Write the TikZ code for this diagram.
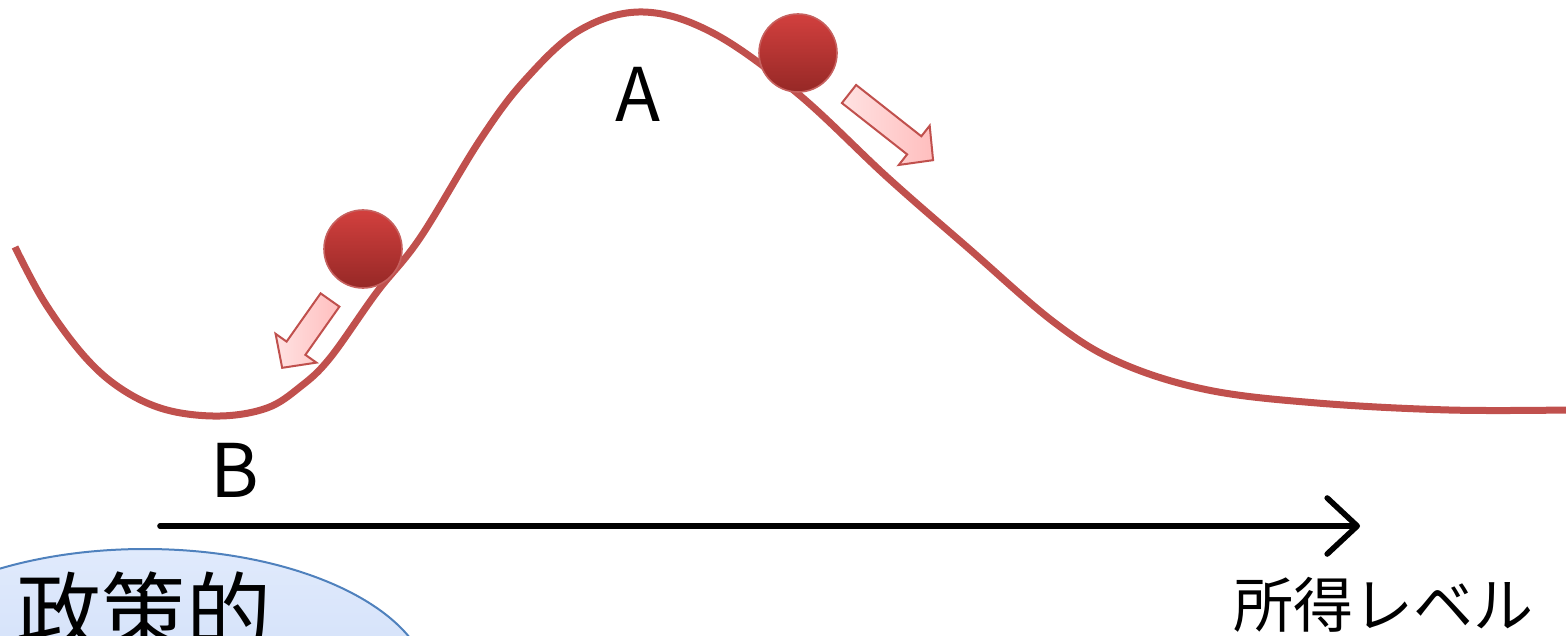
\documentclass[tikz,border=0pt]{standalone}
\usepackage{fontspec}
\setmainfont{Noto Sans CJK JP}
\usetikzlibrary{arrows.meta,shapes.geometric}
\definecolor{curvered}{RGB}{192,80,77}
\definecolor{balltop}{RGB}{210,64,62}
\definecolor{ballbot}{RGB}{150,40,38}
\definecolor{arrfill}{RGB}{255,190,190}
\definecolor{ovalline}{RGB}{79,129,189}
\definecolor{ovaltop}{RGB}{224,234,252}
\definecolor{ovalbot}{RGB}{196,214,246}
\begin{document}
\begin{tikzpicture}[x=0.5pt, y=-0.5pt,
        curve/.style={curvered, line width=3.5pt, line cap=butt},
        ball/.style={circle, draw=curvered!90!white, line width=0.8pt, top color=balltop, bottom color=ballbot, minimum size=39pt, inner sep=0pt},
        blockarr/.style={draw=curvered, line width=1pt, left color=arrfill!45!white, right color=arrfill, line join=miter},
        axisline/.style={line width=2.8pt, line cap=round, -{Straight Barb[length=15pt, width=28pt, line cap=round, line join=round]}},
        letter/.style={font=\fontsize{37pt}{40pt}\selectfont, inner sep=0pt}
    ]
    \useasboundingbox (0,0) rectangle (1566,636);
    \clip (0,0) rectangle (1566,636);
    % Oval in the corner
    \node[ellipse, draw=ovalline, line width=1pt, top color=ovaltop, bottom color=ovalbot, minimum width=285pt, minimum height=141pt, inner sep=0pt] (oval) at (145,690) {};
    \node[anchor=base west, inner sep=0pt, font=\fontsize{42.5pt}{45pt}\selectfont] (policy) at (16,643) {政策的};
    % Landscape curve
    \draw[curve] plot[smooth, tension=0.6] coordinates {(15,247) (45,303) (85,357) (123,390) (167,410) (220,416) (267,408) (300,387) (330,358) (377,292) (420,238) (480,140) (525,80) (580,30) (643,12) (713,33) (797,93) (887,177) (967,247) (1055,323) (1121,363) (1208,390) (1317,403) (1449,410) (1566,410)};
    % Balls
    \node[ball] (ballB) at (363,249) {};
    \node[ball] (ballA) at (798,53) {};
    % Block arrows
    \foreach \tx/\ty/\ang/\len in {330/300/234.8/83, 849/94/-38.2/107} {
        \begin{scope}[shift={(\tx,\ty)}, rotate=\ang]
            \draw[blockarr] (0,-11.5) -- ({\len-24},-11.5) -- ({\len-24},-25) -- (\len,0) -- ({\len-24},25) -- ({\len-24},11.5) -- (0,11.5) -- cycle;
        \end{scope}
    }
    % Labels
    \node[letter] (labA) at (638,94) {A};
    \node[letter] (labB) at (235,470) {B};
    % Income axis
    \coordinate (axstart) at (160,526);
    \coordinate (axend) at (1360,526);
    \draw[axisline] (axstart) -- (axend);
    \node[font=\fontsize{30pt}{32pt}\selectfont, inner sep=0pt] (income) at (1383,605) {所得レベル};
\end{tikzpicture}
\end{document}
